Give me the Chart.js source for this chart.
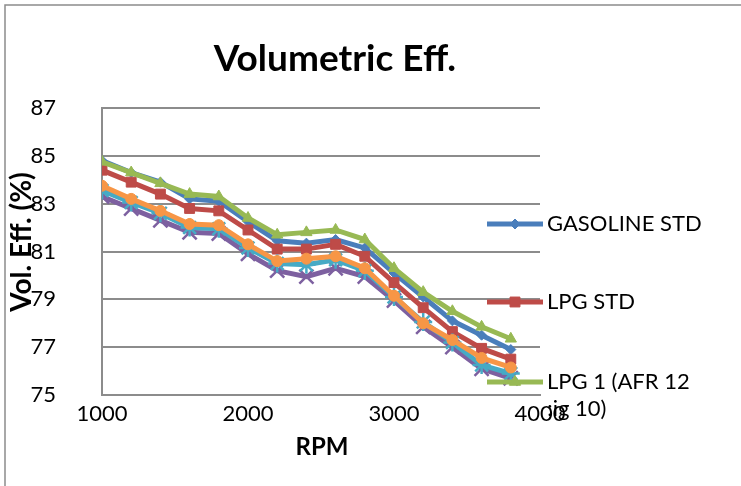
<!DOCTYPE html>
<html lang="en">
<head>
<meta charset="UTF-8">
<title>Volumetric Eff.</title>
<style>
  body { margin: 0; background: #fff; }
  #wrap { width: 741px; height: 486px; }
</style>
<script src="https://cdn.jsdelivr.net/npm/chart.js"></script>
</head>
<body>
<div id="wrap"><canvas id="veChart" width="741" height="486"></canvas></div>
<script>
// data
var rpm = [1000, 1200, 1400, 1600, 1800, 2000, 2200, 2400, 2600, 2800, 3000, 3200, 3400, 3600, 3800];
var gasolineStd = [84.8, 84.3, 83.9, 83.2, 83.1, 82.25, 81.45, 81.35, 81.5, 81.15, 80.1, 79.1, 78.1, 77.5, 76.9];
var lpgStd      = [84.4, 83.9, 83.4, 82.8, 82.7, 81.9, 81.1, 81.1, 81.3, 80.8, 79.7, 78.65, 77.65, 76.95, 76.5];
var lpg1        = [84.75, 84.3, 83.85, 83.4, 83.3, 82.4, 81.7, 81.8, 81.9, 81.5, 80.3, 79.3, 78.5, 77.85, 77.35];
var series4     = [83.3, 82.8, 82.3, 81.8, 81.75, 80.9, 80.2, 79.95, 80.3, 79.95, 78.95, 77.85, 77.0, 76.1, 75.7];
var series5     = [83.55, 83.05, 82.6, 82.0, 81.95, 81.15, 80.5, 80.45, 80.65, 80.2, 79.1, 78.05, 77.2, 76.25, 75.9];
var series6     = [83.75, 83.2, 82.7, 82.15, 82.1, 81.3, 80.6, 80.7, 80.8, 80.3, 79.15, 78.0, 77.3, 76.55, 76.15];

var seriesNames = ['GASOLINE STD', 'LPG STD', 'LPG 1 (AFR 12 ;ig 10)', 'Series 4', 'Series 5', 'Series 6'];
var xTicks = [1000, 2000, 3000, 4000];
var yTicks = [75, 77, 79, 81, 83, 85, 87];

var chartTitle = 'Volumetric Eff.';
var xTitle = 'RPM';
var yTitle = 'Vol. Eff. (%)';

var FONT = 'Lato, "Open Sans", sans-serif';

function pts(vals) {
    return vals.map(function (v, i) { return { x: rpm[i], y: v }; });
}

var styles = [
    { color: '#4A7EBB', point: 'rectRot', r: 5, bw: 1 },
    { color: '#BE4B48', point: 'rect', r: 7, bw: 1 },
    { color: '#98B954', point: 'triangle', r: 6.5, bw: 1 },
    { color: '#7D60A0', point: 'crossRot', r: 10, bw: 2.5 },
    { color: '#46AAC5', point: 'star', r: 9, bw: 2.5 },
    { color: '#F79646', point: 'circle', r: 5.5, bw: 1 }
];
var allValues = [gasolineStd, lpgStd, lpg1, series4, series5, series6];

var datasets = allValues.map(function (vals, i) {
    var s = styles[i];
    return {
        label: seriesNames[i],
        data: pts(vals),
        borderColor: s.color,
        backgroundColor: s.color,
        borderWidth: 5,
        pointStyle: s.point,
        pointRadius: s.r,
        pointBackgroundColor: s.color,
        pointBorderColor: s.color,
        pointBorderWidth: s.bw,
        tension: 0,
        order: 5 - i   // later series on top, like the original
    };
});

// only the first three legend rows are visible in the original
var legendRows = [
    { ds: 0, y: 224 },
    { ds: 1, y: 302 },
    { ds: 2, y: 382 }
];

var sheetText = {
    id: 'sheetText',
    afterDraw: function (chart) {
        var ctx = chart.ctx;
        ctx.save();

        // chart frame (cut off on the right and bottom)
        ctx.strokeStyle = '#8c8c8c';
        ctx.lineWidth = 1.5;
        ctx.beginPath();
        ctx.moveTo(5, 500);
        ctx.lineTo(5, 5);
        ctx.lineTo(760, 5);
        ctx.stroke();

        ctx.fillStyle = '#000';

        // title
        ctx.font = 'bold 37px ' + FONT;
        ctx.textAlign = 'center';
        ctx.textBaseline = 'alphabetic';
        ctx.fillText(chartTitle, 335, 71);

        // x axis title
        ctx.font = 'bold 24px ' + FONT;
        ctx.textBaseline = 'middle';
        ctx.fillText(xTitle, 322, 447);

        // y axis title
        ctx.font = 'bold 28px ' + FONT;
        ctx.save();
        ctx.translate(22, 242);
        ctx.rotate(-Math.PI / 2);
        ctx.fillText(yTitle, 0, 0);
        ctx.restore();

        // legend
        ctx.font = '22px ' + FONT;
        ctx.textAlign = 'left';
        legendRows.forEach(function (row) {
            var ds = chart.data.datasets[row.ds];
            ctx.strokeStyle = ds.borderColor;
            ctx.lineWidth = 5;
            ctx.beginPath();
            ctx.moveTo(487, row.y);
            ctx.lineTo(543, row.y);
            ctx.stroke();
            ctx.fillStyle = ds.pointBackgroundColor;
            ctx.strokeStyle = ds.pointBorderColor;
            ctx.lineWidth = ds.pointBorderWidth;
            Chart.helpers.drawPoint(ctx, { pointStyle: ds.pointStyle, rotation: 0, radius: ds.pointRadius, borderWidth: ds.pointBorderWidth }, 515, row.y);
            ctx.fillStyle = '#000';
            // the legend box is narrow, so the long label breaks before ";ig"
            var lines = ds.label.split(' ;');
            lines.forEach(function (ln, k) {
                ctx.fillText(k ? ';' + ln : ln, 547, row.y + k * 27);
            });
        });

        ctx.restore();
    }
};

new Chart(document.getElementById('veChart'), {
    type: 'line',
    data: { datasets: datasets },
    plugins: [sheetText],
    options: {
        responsive: false,
        animation: false,
        layout: { padding: { left: 0, top: 108, right: 201, bottom: 0 } },
        plugins: {
            legend: { display: false },
            title: { display: false },
            tooltip: { enabled: false }
        },
        scales: {
            x: {
                type: 'linear',
                min: 1000,
                max: 4000,
                afterBuildTicks: function (s) { s.ticks = xTicks.map(function (v) { return { value: v }; }); },
                afterFit: function (s) { s.height = 91; },
                grid: { display: false, drawTicks: false },
                border: { color: '#8c8c8c', width: 2 },
                ticks: {
                    padding: 6, color: '#000', font: { family: FONT, size: 22 }, maxRotation: 0,
                    callback: function (v) { return String(v); }
                }
            },
            y: {
                min: 75,
                max: 87,
                afterBuildTicks: function (s) { s.ticks = yTicks.map(function (v) { return { value: v }; }); },
                afterFit: function (s) { s.width = 102; },
                grid: { color: '#8c8c8c', lineWidth: 2, drawTicks: false },
                border: { color: '#8c8c8c', width: 2 },
                ticks: { padding: 46, color: '#000', font: { family: FONT, size: 22 } }
            }
        }
    }
});
</script>
</body>
</html>
